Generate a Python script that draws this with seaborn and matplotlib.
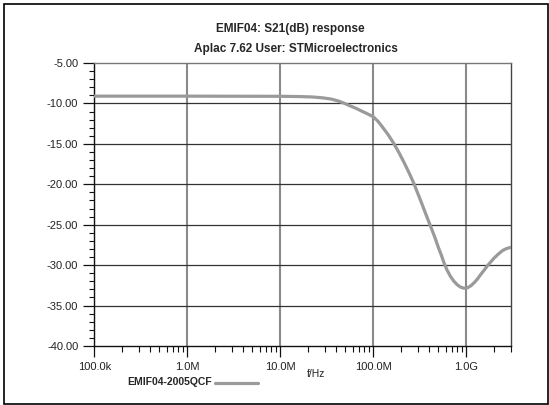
import numpy as np
import pandas as pd
import matplotlib
matplotlib.use("Agg")
import matplotlib.pyplot as plt
import matplotlib.ticker as mticker
from matplotlib.patches import Rectangle
from matplotlib.lines import Line2D
import seaborn as sns

# S21 curve (frequency in Hz, attenuation in dB)
freq_hz = [1e5, 1e6, 1e7, 1.6e7, 2.2e7, 2.8e7, 3.5e7, 4.2e7, 4.8e7, 5.5e7,
           6.5e7, 7.5e7, 8.7e7, 1e8, 1.12e8, 1.26e8, 1.45e8, 1.66e8, 1.9e8,
           2.14e8, 2.45e8, 2.73e8, 3.0e8, 3.3e8, 3.7e8, 4.13e8, 4.6e8, 5.0e8,
           5.4e8, 5.75e8, 6.2e8, 6.76e8, 7.3e8, 7.94e8, 8.6e8, 9.4e8, 1.03e9,
           1.12e9, 1.22e9, 1.32e9, 1.44e9, 1.56e9, 1.68e9, 1.83e9, 2.0e9,
           2.2e9, 2.45e9, 2.7e9, 3.0e9]
s21_db = [-9.1, -9.1, -9.12, -9.15, -9.2, -9.3, -9.45, -9.7, -9.95, -10.25,
          -10.6, -10.95, -11.3, -11.65, -12.2, -12.95, -13.9, -14.95, -16.15,
          -17.3, -18.7, -19.9, -21.1, -22.3, -23.8, -25.2, -26.6, -27.8,
          -28.8, -29.7, -30.6, -31.4, -31.95, -32.4, -32.7, -32.85, -32.8,
          -32.55, -32.15, -31.7, -31.1, -30.6, -30.1, -29.6, -29.1,
          -28.65, -28.2, -27.95, -27.8]

y_ticks = [-5, -10, -15, -20, -25, -30, -35, -40]
x_ticks = [1e5, 1e6, 1e7, 1e8, 1e9]
x_labels = ["100.0k", "1.0M", "10.0M", "100.0M", "1.0G"]

df = pd.DataFrame({"f": freq_hz, "dB": s21_db})

sns.set_style("white")
plt.rcParams["font.family"] = ["Liberation Sans", "DejaVu Sans"]

fig = plt.figure(figsize=(5.49, 4.05), dpi=100)
ax = fig.add_axes([94.3 / 549, 1 - 346 / 405, (510.7 - 94.3) / 549, (346 - 63) / 405])

# grid
for x in x_ticks:
    ax.axvline(x, color="#8a8a8a", lw=1.5, zorder=1)
for y in y_ticks[1:-1]:
    ax.axhline(y, color="#333333", lw=0.9, zorder=1)

sns.lineplot(data=df, x="f", y="dB", ax=ax, color="#9a9a9a", lw=2.3, zorder=3)

ax.set_xscale("log")
ax.set_xlim(1e5, 3e9)
ax.set_ylim(-40, -5)
ax.set_xticks(x_ticks)
ax.set_xticklabels(x_labels)
ax.xaxis.set_minor_locator(mticker.LogLocator(base=10, subs=np.arange(2, 10), numticks=20))
ax.xaxis.set_minor_formatter(mticker.NullFormatter())
ax.set_yticks(y_ticks)
ax.yaxis.set_major_formatter(mticker.FormatStrFormatter("%.2f"))
ax.yaxis.set_minor_locator(mticker.MultipleLocator(1))
ax.set_xlabel("")
ax.set_ylabel("")

ax.tick_params(axis="both", which="major", direction="out", length=8, width=0.9,
               color="#111111", labelsize=8, labelcolor="#222222", pad=3.5)
ax.tick_params(axis="y", which="minor", direction="out", length=3.5, width=0.8, color="#111111")
ax.tick_params(axis="x", which="minor", direction="out", length=4.5, width=0.8, color="#111111")
ax.tick_params(left=True, bottom=True, which="both")

for side, col in [("left", "#111111"), ("bottom", "#111111"), ("top", "#777777"), ("right", "#444444")]:
    ax.spines[side].set_color(col)
    ax.spines[side].set_linewidth(1.0)
    ax.spines[side].set_visible(True)

# titles and labels in figure pixel coords
def fx(px):
    return px / 549

def fy(py):
    return 1 - py / 405

fig.text(fx(290), fy(29), "EMIF04: S21(dB) response", ha="center", va="center",
         fontsize=8.5, fontweight="bold")
fig.text(fx(296), fy(49), "Aplac 7.62 User: STMicroelectronics", ha="center", va="center",
         fontsize=8.5, fontweight="bold")
fig.text(fx(316), fy(374), "f/Hz", ha="center", va="center", fontsize=7.5, color="#222222")
fig.text(fx(127), fy(382), "EMIF04-2005QCF", ha="left", va="center",
         fontsize=7.5, fontweight="bold")
fig.add_artist(Line2D([fx(215), fx(258)], [fy(383), fy(383)], color="#9a9a9a", lw=2.3))

# outer frame
fig.add_artist(Rectangle((fx(3.5), fy(403.5)), fx(544), 400 / 405, fill=False,
                         edgecolor="black", lw=1.2, transform=fig.transFigure))

fig.savefig("out.png", dpi=100)
